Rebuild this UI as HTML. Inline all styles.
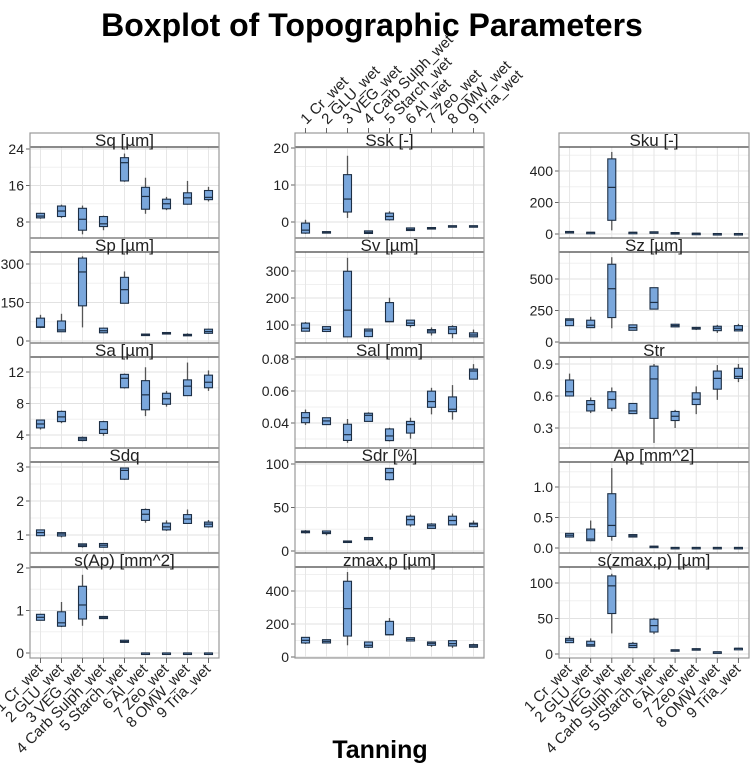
<!DOCTYPE html>
<html><head><meta charset="utf-8">
<style>
html,body{margin:0;padding:0;background:#fff;}
svg{display:block;font-family:"Liberation Sans",sans-serif;}
</style></head>
<body>
<svg id="chart" width="750" height="765" viewBox="0 0 750 765">
<text x="372" y="36" text-anchor="middle" font-size="32" font-weight="bold" fill="#000">Boxplot of Topographic Parameters</text>
<text x="380" y="758" text-anchor="middle" font-size="25" font-weight="bold" fill="#000">Tanning</text>
<g id="plots"></g>
</svg>
<script>
const categories = ["1 Cr_wet","2 GLU_wet","3 VEG_wet","4 Carb Sulph_wet","5 Starch_wet","6 Al_wet","7 Zeo_wet","8 OMW_wet","9 Tria_wet"];
const panelTitles = ["Sq [µm]","Sp [µm]","Sa [µm]","Sdq","s(Ap) [mm^2]","Ssk [-]","Sv [µm]","Sal [mm]","Sdr [%]","zmax,p  [µm]","Sku [-]","Sz [µm]","Str","Ap  [mm^2]","s(zmax,p) [µm]"];
// stats: [lowWhisker, q1, median, q3, highWhisker]
const sqStats = [[8.7,8.9,9.3,9.9,10],[8.9,9.2,10.4,11.5,11.8],[5.3,6.2,8.6,11,11.6],[6.2,7,7.6,9.2,9.4],[16.8,17,21,22.1,23],[9.8,10.8,13.6,15.6,17.7],[10.6,10.9,12,13,13.5],[11.8,11.9,13.3,14.4,17],[12.5,12.9,13.4,14.9,15.7]];
const spStats = [[51,53,55,89,102],[35,36,43,78,106],[53,137,269,323,330],[30,32,40,50,52],[147,147,200,248,271],[20,22,24,27,28],[27,28,30,33,35],[20,21,23,26,30],[28,30,37,46,48]];
const saStats = [[4.7,4.9,5.4,5.9,5.9],[5.5,5.7,6.3,7,7.1],[3.2,3.3,3.5,3.7,3.8],[3.9,4.2,4.7,5.7,5.8],[9.9,10,11.2,11.7,11.8],[6.4,7.2,9.1,10.9,12.6],[7.6,7.9,8.6,9.3,9.6],[9,9,10.2,11,13.2],[9.6,10,10.7,11.6,12.2]];
const sdqStats = [[0.98,0.98,1.07,1.15,1.16],[0.93,0.97,1.03,1.07,1.08],[0.63,0.66,0.7,0.74,0.75],[0.63,0.64,0.7,0.75,0.76],[2.62,2.64,2.9,2.97,2.98],[1.36,1.43,1.61,1.75,1.78],[1.12,1.15,1.24,1.35,1.43],[1.34,1.34,1.47,1.6,1.75],[1.22,1.24,1.32,1.38,1.44]];
const sApStats = [[0.77,0.77,0.84,0.91,0.92],[0.61,0.63,0.71,0.97,1.2],[0.64,0.8,1.13,1.57,1.84],[0.8,0.81,0.83,0.86,0.87],[0.24,0.25,0.27,0.3,0.31],[0,0,0,0,0],[0,0,0,0,0],[0,0,0,0,0],[0,0,0,0,0]];
const sskStats = [[-3.2,-3,-2.2,-0.3,0.6],[-2.8,-2.8,-2.7,-2.6,-2.6],[1.1,2.7,6.2,12.8,17.9],[-3.2,-3.1,-2.8,-2.4,-2.3],[0.4,0.6,1.5,2.4,2.9],[-2.4,-2.3,-2,-1.6,-1.5],[-1.8,-1.7,-1.6,-1.5,-1.4],[-1.3,-1.2,-1.1,-1,-1],[-1.3,-1.2,-1.1,-1,-1]];
const svStats = [[77,77,88,107,111],[76,76,84,94,94],[56,56,155,299,349],[57,57,78,85,86],[112,112,113,183,201],[91,98,107,118,118],[61,71,78,83,91],[51,68,85,94,99],[56,56,63,71,83]];
const salStats = [[0.0388,0.0402,0.0433,0.0465,0.0484],[0.039,0.039,0.0413,0.0433,0.0433],[0.0276,0.0291,0.0327,0.0392,0.0425],[0.041,0.041,0.0448,0.0461,0.0467],[0.0285,0.029,0.0319,0.0363,0.037],[0.0302,0.0337,0.039,0.041,0.0433],[0.0454,0.0498,0.0534,0.0599,0.062],[0.0421,0.0471,0.0486,0.0563,0.0637],[0.0674,0.0674,0.0725,0.0737,0.0768]];
const sdrStats = [[20,21,22,23,24],[18,20,21,23,23],[10,10,11,11.5,12],[13,13,14,15.5,16],[81,82,90,95,95],[28,30,36,40,42],[26,26,29,31,32],[30,30,35,40,43],[28,28,31,32,35]];
const zmaxStats = [[79,85,101,119,119],[85,85,95,105,105],[71,127,293,459,515],[55,59,71,91,91],[135,135,135,216,236],[97,97,107,117,117],[61,71,83,91,91],[55,67,81,99,99],[59,59,67,75,81]];
const skuStats = [[10,13,14,16,17],[8,9,10,11,11],[23,87,296,477,521],[8,9,10,11,11],[9,10,12,14,15],[4,5,7,9,10],[3,3,4,5,5],[1,2,2,3,3],[0,1,2,3,3]];
const szStats = [[130,130,173,184,184],[114,114,133,173,200],[109,194,423,617,673],[93,93,114,136,136],[261,261,314,431,431],[120,120,130,141,141],[95,102,110,116,120],[72,90,109,125,136],[88,88,100,130,144]];
const strStats = [[0.6,0.6,0.64,0.75,0.81],[0.44,0.46,0.52,0.557,0.586],[0.457,0.485,0.567,0.64,0.68],[0.435,0.435,0.46,0.53,0.53],[0.16,0.39,0.76,0.88,0.9],[0.3,0.37,0.41,0.455,0.47],[0.43,0.52,0.57,0.63,0.69],[0.564,0.664,0.765,0.834,0.89],[0.73,0.765,0.784,0.86,0.9]];
const apStats = [[0.18,0.18,0.21,0.24,0.24],[0.11,0.12,0.146,0.31,0.45],[0.12,0.19,0.37,0.89,1.31],[0.18,0.18,0.2,0.22,0.22],[0.02,0.02,0.025,0.03,0.03],[0,0,0.005,0.01,0.01],[0,0,0.005,0.01,0.01],[0,0,0.005,0.01,0.01],[0,0,0.005,0.01,0.01]];
const szmaxStats = [[16,16,19.5,22,25],[11,11,13,18,22],[29,57,96,110,113],[9,9,12,15,17],[28,31,40,49,51],[4.5,5,5.5,6,6],[6,6.5,7,7.5,8],[2,2.5,3,3,3.5],[7,7.5,8,8,8.5]];
const tickValues = [[8,16,24],[0,150,300],[4,8,12],[1,2,3],[0,1,2],[0,10,20],[100,200,300],[0.04,0.06,0.08],[0,50,100],[0,200,400],[0,200,400],[0,250,500],[0.3,0.6,0.9],[0,0.5,1],[0,50,100]];
const tickLabels = [["8","16","24"],["0","150","300"],["4","8","12"],["1","2","3"],["0","1","2"],["0","10","20"],["100","200","300"],["0.04","0.06","0.08"],["0","50","100"],["0","200","400"],["0","200","400"],["0","250","500"],["0.3","0.6","0.9"],["0.0","0.5","1.0"],["0","50","100"]];
const allStats = [sqStats,spStats,saStats,sdqStats,sApStats,sskStats,svStats,salStats,sdrStats,zmaxStats,skuStats,szStats,strStats,apStats,szmaxStats];

const anchors = [[24,149,8,222],[300,264,0,341],[12,372,4,435],[3,467,1,535],[2,568,0,653],
 [20,148,0,222],[300,271,100,325],[0.08,359,0.04,423],[100,464,0,551],[400,591,0,657],
 [400,171,0,234],[500,279,0,342],[0.9,364,0.3,428],[1,487,0,548],[100,583,0,654]];
const colLeft = [30,295,559], colW = [189,189,190];
const NS = "http://www.w3.org/2000/svg";
const root = document.getElementById('plots');
function mk(tag, attrs, parent){const e=document.createElementNS(NS,tag);for(const k in attrs)e.setAttribute(k,attrs[k]);(parent||root).appendChild(e);return e;}
function xScale(c,i){return colLeft[c]+colW[c]/9*(i+0.5);}

for(let c=0;c<3;c++){
  const L=colLeft[c], W=colW[c];
  for(let r=0;r<5;r++){
    const p=c*5+r;
    const top=133+105*r, pTop=top+14, pBot=(r===4)?658:top+105;
    const a=anchors[p];
    const yS=v=>a[1]+(v-a[0])*(a[3]-a[1])/(a[2]-a[0]);
    const g=mk('g',{});
    
    
    const tv=tickValues[p];
    const step=tv[1]-tv[0];
    for(let k=-1;k<=tv.length;k++){
      const ym=yS(tv[0]+step*k-step/2);
      if(ym>pTop&&ym<pBot) mk('line',{x1:L,x2:L+W,y1:ym,y2:ym,stroke:'#f0f0f0','stroke-width':1},g);
    }
    tv.forEach((v,k)=>{
      const y=yS(v);
      const gl=mk('line',{x1:L,x2:L+W,y1:y,y2:y,stroke:'#e2e2e2','stroke-width':1},g);
      
      
      mk('line',{x1:L-4,x2:L,y1:y,y2:y,stroke:'#666'},g);
      const t=mk('text',{x:L-6,y:y+5,'text-anchor':'end','font-size':14,fill:'#222'},g);
      t.textContent=tickLabels[p][k];
      
      
    });
    for(let i=0;i<9;i++){const x=xScale(c,i);mk('line',{x1:x,x2:x,y1:pTop,y2:pBot,stroke:'#e6e6e6'},g);}
    allStats[p].forEach((s,i)=>{
      const x=xScale(c,i), bw=8;
      const bg=mk('g',{},g);
      
      
      mk('line',{x1:x,x2:x,y1:yS(s[4]),y2:yS(s[0]),stroke:'#555','stroke-width':1.3},bg);
      const h=Math.max(1.5,yS(s[1])-yS(s[3]));
      mk('rect',{x:x-bw/2,y:yS(s[3]),width:bw,height:h,fill:'#7aa7dc',stroke:'#1d2f45','stroke-width':1.1},bg);
      mk('line',{x1:x-bw/2,x2:x+bw/2,y1:yS(s[2]),y2:yS(s[2]),stroke:'#1d2f45','stroke-width':1.2},bg);
    });
    mk('rect',{x:L,y:top,width:W,height:14,fill:'#fff',stroke:'none'},g);
    mk('line',{x1:L,x2:L+W,y1:top+14,y2:top+14,stroke:'#444','stroke-width':1.2},g);
    if(r>0) mk('line',{x1:L,x2:L+W,y1:top,y2:top,stroke:'#444','stroke-width':1},g);
    const st=mk('text',{x:L+W/2,y:top+13,'text-anchor':'middle','font-size':17,fill:'#222'},g);
    st.textContent=panelTitles[p];
    
    
  }
  mk('rect',{x:L,y:133,width:W,height:525,fill:'none',stroke:'#999','stroke-width':1.2});
  for(let i=0;i<9;i++){
    const x=xScale(c,i);
    if(c===1){
      mk('line',{x1:x,x2:x,y1:128,y2:133,stroke:'#666'});
      const t=mk('text',{x:x+1,y:125,'text-anchor':'start','font-size':15,fill:'#222',transform:`rotate(-45 ${x+1} 125)`});
      t.textContent=categories[i];
      
      
    } else {
      mk('line',{x1:x,x2:x,y1:658,y2:663,stroke:'#666'});
      const t=mk('text',{x:x+3,y:670,'text-anchor':'end','font-size':15,fill:'#222',transform:`rotate(-45 ${x+3} 670)`});
      t.textContent=categories[i];
      
      
    }
  }
}
</script>
</body></html>
